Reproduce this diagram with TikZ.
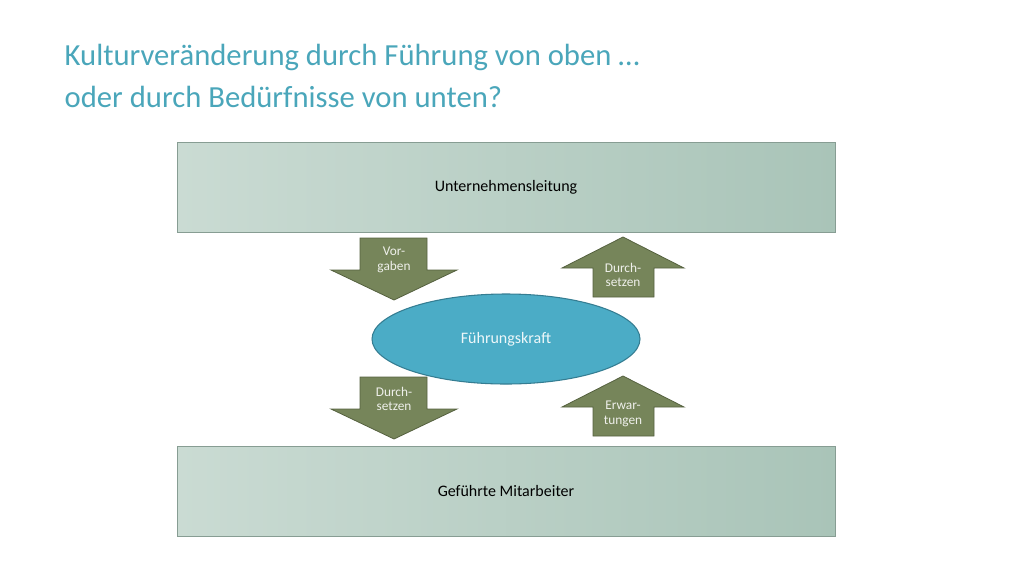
\documentclass[tikz,border=0pt]{standalone}
\usepackage{fontspec}
\setmainfont{Carlito}
\usetikzlibrary{shapes}
\definecolor{titleblue}{HTML}{4AA6BA}
\definecolor{boxleft}{HTML}{CADBD3}
\definecolor{boxright}{HTML}{A9C4B8}
\definecolor{arrowfill}{HTML}{76855A}
\definecolor{arrowline}{HTML}{55613F}
\definecolor{ellfill}{HTML}{4BACC6}
\definecolor{ellline}{HTML}{357D92}
\tikzset{
  levelbox/.style={draw=boxright!80!black, left color=boxleft, right color=boxright,
    minimum width=658*0.75pt, minimum height=90*0.75pt, font=\fontsize{12}{14}\selectfont},
  blockarrow/.style={fill=arrowfill, draw=arrowline, line width=0.6pt},
  arrowtext/.style={text=white!88!arrowfill, align=center, font=\fontsize{10}{11}\selectfont}
}
\begin{document}
\begin{tikzpicture}[x=0.75pt,y=-0.75pt]
\useasboundingbox (0,0) rectangle (1024,576);

%Title
\node [anchor=west, text=titleblue, font=\fontsize{23}{28}\selectfont] (title1) at (60,57) {Kulturveränderung durch Führung von oben \dots};
\node [anchor=west, text=titleblue, font=\fontsize{23}{28}\selectfont] (title2) at (60,97) {oder durch Bedürfnisse von unten?};

%Boxes
\node [levelbox] (top) at (506,187) {Unternehmensleitung};
\node [levelbox] (bottom) at (506,491) {Geführte Mitarbeiter};

%Ellipse
\node [ellipse, fill=ellfill, draw=ellline, line width=0.8pt, minimum width=268*0.75pt,
  minimum height=90*0.75pt, text=white!90!ellfill, font=\fontsize{12}{14}\selectfont] (lead) at (506,339) {Führungskraft};

%Down arrows
\foreach \y/\name/\txt in {238/down1/{Vor-\\gaben}, 377/down2/{Durch-\\setzen}}
{
\draw [blockarrow] (360,\y) -- (427,\y) -- (427,\y+32) -- (457,\y+32) -- (394,\y+62)
  -- (331,\y+32) -- (360,\y+32) -- cycle;
\node [arrowtext] (\name) at (394,\y+22) {\txt};
}
%Up arrows
\foreach \y/\name/\txt in {237/up1/{Durch-\\setzen}, 376/up2/{Erwar-\\tungen}}
{
\draw [blockarrow] (623,\y) -- (684,\y+31) -- (654,\y+31) -- (654,\y+60) -- (593,\y+60)
  -- (593,\y+31) -- (562,\y+31) -- cycle;
\node [arrowtext] (\name) at (623,\y+38) {\txt};
}
\end{tikzpicture}
\end{document}
